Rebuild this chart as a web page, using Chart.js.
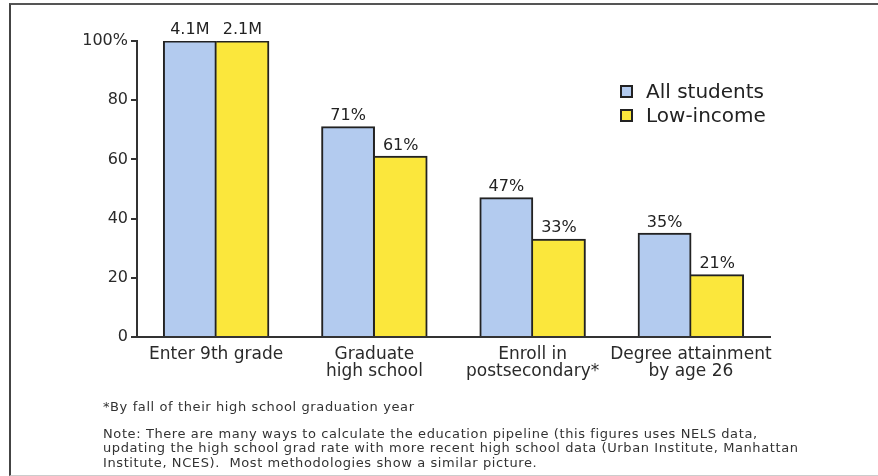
<!DOCTYPE html>
<html lang="en">
<head>
  <meta charset="UTF-8" />
  <title>Education pipeline</title>
  <style>
    body {
      margin: 0;
      background: #fff;
      font-family: 'DejaVu Sans', Verdana, sans-serif;
      color: #333;
      overflow: hidden;
    }
    #frame {
      position: absolute;
      left: 9px;
      top: 3px;
      width: 900px;
      height: 470px;
      border-left: 2px solid #444;
      border-top: 2px solid #555;
      border-bottom: 1px solid #ccc;
    }
    #chart-wrap {
      position: absolute;
      left: 0;
      top: 0;
      width: 878px;
      height: 476px;
    }
    #legend {
      position: absolute;
      left: 620px;
      top: 79px;
      font-size: 20px;
      line-height: 24px;
      color: #222;
    }
    .swatch {
      display: inline-block;
      width: 9px;
      height: 9px;
      border: 2px solid #222;
      margin-right: 13px;
      vertical-align: 0px;
    }
    #notes {
      position: absolute;
      left: 103px;
      top: 400px;
      font-size: 13px;
      letter-spacing: 0.6px;
      color: #333;
    }
    #notes p { margin: 0; line-height: 14.5px; white-space: nowrap; }
    #notes .first { margin-bottom: 12px; }
  </style>
</head>
<body>
  <div id="frame"></div>
  <div id="chart-wrap">
    <canvas id="pipeline" width="878" height="476"></canvas>
  </div>
  <div id="legend">
    <div><span class="swatch" style="background:#b3cbef"></span>All students</div>
    <div><span class="swatch" style="background:#fbe73c"></span>Low-income</div>
  </div>
  <div id="notes">
    <p class="first">*By fall of their high school graduation year</p>
    <p>Note: There are many ways to calculate the education pipeline (this figures uses NELS data,</p>
    <p>updating the high school grad rate with more recent high school data (Urban Institute, Manhattan</p>
    <p>Institute, NCES).&nbsp; Most methodologies show a similar picture.</p>
  </div>

  <script src="https://cdn.jsdelivr.net/npm/chart.js"></script>
  <script>
    const categories = [
      ['Enter 9th grade'],
      ['Graduate', 'high school'],
      ['Enroll in', 'postsecondary*'],
      ['Degree attainment', 'by age 26']
    ];
    const allStudents = [100, 71, 47, 35];
    const lowIncome = [100, 61, 33, 21];
    const allLabels = ['4.1M', '71%', '47%', '35%'];
    const lowLabels = ['2.1M', '61%', '33%', '21%'];
    const yTicks = [0, 20, 40, 60, 80, 100];

    // value labels above each bar
    const barLabels = {
      id: 'barLabels',
      afterDatasetsDraw(chart) {
        const ctx = chart.ctx;
        const texts = [allLabels, lowLabels];
        ctx.save();
        ctx.font = '16px "DejaVu Sans", Verdana, sans-serif';
        ctx.fillStyle = '#222';
        ctx.textAlign = 'center';
        ctx.textBaseline = 'bottom';
        chart.data.datasets.forEach((ds, i) => {
          chart.getDatasetMeta(i).data.forEach((bar, j) => {
            ctx.fillText(texts[i][j], bar.x, bar.y - 3);
          });
        });
        ctx.restore();
      }
    };

    new Chart(document.getElementById('pipeline'), {
      type: 'bar',
      data: {
        labels: categories,
        datasets: [
          {
            label: 'All students',
            data: allStudents,
            backgroundColor: '#b3cbef',
            borderColor: '#222',
            borderWidth: { top: 2, left: 2, right: 2, bottom: 0 },
            inflateAmount: 0.6
          },
          {
            label: 'Low-income',
            data: lowIncome,
            backgroundColor: '#fbe73c',
            borderColor: '#222',
            borderWidth: { top: 2, left: 0, right: 2, bottom: 0 },
            inflateAmount: 0.6
          }
        ]
      },
      options: {
        responsive: false,
        animation: false,
        layout: { padding: { left: 67, right: 108, top: 41, bottom: 84 } },
        plugins: {
          legend: { display: false },
          tooltip: { enabled: false }
        },
        datasets: {
          bar: { categoryPercentage: 0.665, barPercentage: 1 }
        },
        scales: {
          x: {
            afterFit: s => { s.height = 55; },
            grid: { display: false },
            border: { display: true, color: '#333', width: 2 },
            ticks: {
              color: '#2a2a2a',
              font: { family: 'DejaVu Sans', size: 17, lineHeight: 1.0 },
              padding: 1,
              maxRotation: 0,
              autoSkip: false
            }
          },
          y: {
            min: 0,
            max: 100,
            afterFit: s => { s.width = 70; },
            afterBuildTicks: s => { s.ticks = yTicks.map(v => ({ value: v })); },
            grid: {
              drawOnChartArea: false,
              tickLength: 6,
              color: '#333',
              lineWidth: 2
            },
            border: { display: true, color: '#333', width: 2 },
            ticks: {
              color: '#2a2a2a',
              font: { family: 'DejaVu Sans', size: 16 },
              padding: 3,
              callback: v => v === 100 ? '100%' : v
            }
          }
        }
      },
      plugins: [barLabels]
    });
  </script>
</body>
</html>
